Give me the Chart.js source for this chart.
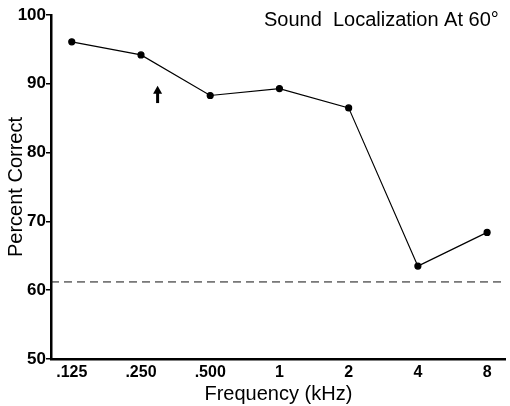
<!DOCTYPE html>
<html>
<head>
<meta charset="utf-8">
<script src="https://cdn.jsdelivr.net/npm/chart.js@4/dist/chart.umd.min.js"></script>
<style>
  html, body { margin: 0; padding: 0; background: #fff; }
  #chart { display: block; }
</style>
</head>
<body>
<canvas id="chart" width="510" height="406"></canvas>
<script>
// Frequencies tested and the score at each one
const frequencies = ['.125', '.250', '.500', '1', '2', '4', '8'];
const percentCorrect = [96.1, 94.2, 88.3, 89.3, 86.5, 63.5, 68.4];
const chanceLevel = 61.2;
const yTicks = [50, 60, 70, 80, 90, 100];

// Arrow marker between .250 and .500 (x in frequency index units)
const arrowAt = { x: 1.24, from: 87.2, to: 89.7 };

const xMin = -0.3;
const xMax = 6.27;

const fontFace = '"Liberation Sans", Arial, Helvetica, sans-serif';

// Title and arrow are drawn on top once the chart is laid out
const extras = {
    id: 'extras',
    afterDraw(chart) {
        const ctx = chart.ctx;
        const x = chart.scales.x;
        const y = chart.scales.y;

        ctx.save();
        ctx.fillStyle = '#000';
        ctx.font = '20px ' + fontFace;
        ctx.textAlign = 'right';
        ctx.textBaseline = 'alphabetic';
        ctx.fillText('Sound  Localization At 60\u00b0', chart.chartArea.right - 7, 26);

        // upward arrow
        const ax = x.getPixelForValue(arrowAt.x);
        const yBottom = y.getPixelForValue(arrowAt.from);
        const yTop = y.getPixelForValue(arrowAt.to);
        ctx.lineWidth = 3;
        ctx.strokeStyle = '#000';
        ctx.beginPath();
        ctx.moveTo(ax, yBottom);
        ctx.lineTo(ax, yTop + 6);
        ctx.stroke();
        ctx.beginPath();
        ctx.moveTo(ax, yTop);
        ctx.lineTo(ax - 4.5, yTop + 8);
        ctx.lineTo(ax + 4.5, yTop + 8);
        ctx.closePath();
        ctx.fill();
        ctx.restore();
    }
};

new Chart(document.getElementById('chart'), {
    type: 'scatter',
    data: {
        datasets: [{
            data: percentCorrect.map((v, i) => ({ x: i, y: v })),
            showLine: true,
            borderColor: '#000',
            borderWidth: 1.2,
            backgroundColor: '#000',
            pointRadius: 3,
            pointHoverRadius: 3
        }, {
            data: [{ x: xMin, y: chanceLevel }, { x: xMax, y: chanceLevel }],
            showLine: true,
            borderColor: '#111',
            borderWidth: 1,
            borderDash: [8, 5],
            pointRadius: 0
        }]
    },
    options: {
        responsive: false,
        animation: false,
        layout: { padding: { top: 15, right: 2, left: 0, bottom: 0 } },
        plugins: {
            legend: { display: false },
            tooltip: { enabled: false }
        },
        scales: {
            x: {
                type: 'linear',
                min: xMin,
                max: xMax,
                afterBuildTicks: (scale) => {
                    scale.ticks = frequencies.map((f, i) => ({ value: i }));
                },
                afterFit: (scale) => { scale.height = 47; },
                border: { display: true, color: '#000', width: 2.5 },
                grid: { display: false, drawTicks: false },
                ticks: {
                    color: '#000',
                    padding: 4,
                    maxRotation: 0,
                    font: { family: fontFace, size: 16, weight: 'bold' },
                    callback: (v) => frequencies[v]
                },
                title: {
                    display: true,
                    text: 'Frequency (kHz)',
                    color: '#000',
                    padding: { top: 0, bottom: 0 },
                    font: { family: fontFace, size: 20 }
                }
            },
            y: {
                min: 50,
                max: 100,
                afterBuildTicks: (scale) => {
                    scale.ticks = yTicks.map(v => ({ value: v }));
                },
                afterFit: (scale) => { scale.width = 51; },
                border: { display: true, color: '#000', width: 2.5 },
                grid: {
                    display: true,
                    drawOnChartArea: false,
                    drawTicks: true,
                    tickLength: 5,
                    color: '#000',
                    lineWidth: 1.5
                },
                ticks: {
                    color: '#000',
                    padding: 0,
                    font: { family: fontFace, size: 17, weight: 'bold' }
                },
                title: {
                    display: true,
                    text: 'Percent Correct',
                    color: '#000',
                    padding: { top: 4, bottom: 0 },
                    font: { family: fontFace, size: 20 }
                }
            }
        }
    },
    plugins: [extras]
});
</script>
</body>
</html>
